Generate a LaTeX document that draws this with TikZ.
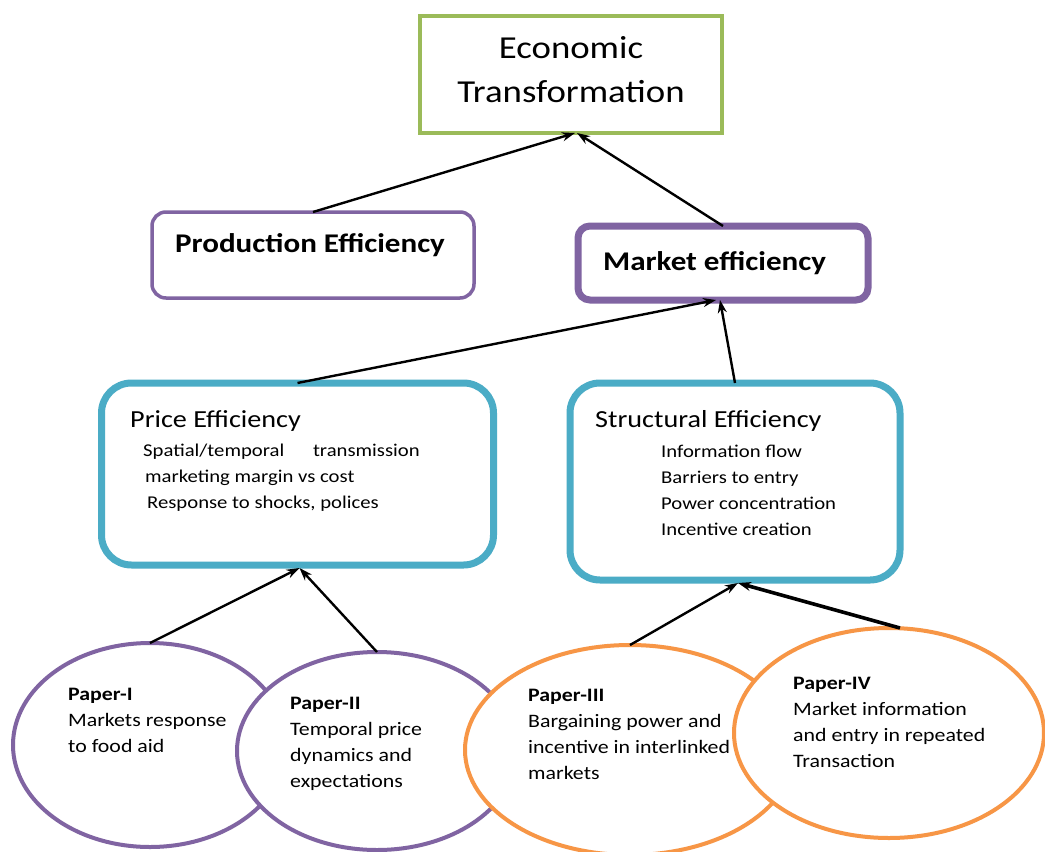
\documentclass[tikz,border=0pt]{standalone}
\usepackage{fontspec}
\setmainfont{Carlito}[FakeStretch=1.15]
\usetikzlibrary{shapes.geometric,arrows.meta}
\definecolor{cgreen}{HTML}{9BBB59}
\definecolor{cpurple}{HTML}{8064A2}
\definecolor{ccyan}{HTML}{4BACC6}
\definecolor{corange}{HTML}{F79646}
\begin{document}
\begin{tikzpicture}[x=1pt,y=-1pt,
  box/.style={draw, fill=white, inner sep=0pt, outer sep=0pt},
  paper/.style={ellipse, draw, fill=white, line width=4pt, inner sep=0pt, outer sep=0pt},
  txt/.style={inner sep=0pt, anchor=north west, align=left},
  head/.style={txt, font=\fontsize{24.5}{28}\selectfont},
  body/.style={txt, font=\fontsize{18}{26}\selectfont},
  ptxt/.style={txt, font=\fontsize{19}{26}\selectfont},
  arr/.style={-{Stealth[length=13pt,width=9pt]}, line width=2.4pt, black}
]
\useasboundingbox[fill=white] (0,0) rectangle (1045,852);

% top
\node[box, draw=cgreen, line width=4pt, minimum width=302pt, minimum height=117pt] (econ) at (571,74.5) {};
\node[inner sep=0pt, align=center, font=\fontsize{32}{44}\selectfont] at (571,70) {Economic\\Transformation};

% middle level
\node[box, draw=cpurple, line width=3.5pt, rounded corners=14pt, minimum width=322pt, minimum height=86pt] (prod) at (313,255) {};
\node[txt, anchor=west, font=\bfseries\fontsize{27}{32}\selectfont] at (175,245) {Production Efficiency};

\node[box, draw=cpurple, line width=7pt, rounded corners=12pt, minimum width=290pt, minimum height=74pt] (market) at (723,263) {};
\node[txt, anchor=west, font=\bfseries\fontsize{27}{32}\selectfont] at (603,263) {Market efficiency};

% efficiency boxes
\node[box, draw=ccyan, line width=7pt, rounded corners=30pt, minimum width=392pt, minimum height=182pt] (price) at (297.5,474) {};
\node[head, anchor=west] at (130,421) {Price Efficiency};
\node[body] at (143,444) {Spatial/temporal\hspace{1.6em}transmission\\\hspace{2pt}marketing margin vs cost\\\hspace{4pt}Response to shocks, polices};

\node[box, draw=ccyan, line width=7pt, rounded corners=30pt, minimum width=330pt, minimum height=197pt] (struct) at (735,481.5) {};
\node[head, anchor=west] at (595,421) {Structural Efficiency};
\node[body] at (661,445) {Information flow\\Barriers to entry\\Power concentration\\Incentive creation};

% papers
\node[paper, draw=cpurple, minimum width=274pt, minimum height=204pt] (p1) at (150,745) {};
\node[ptxt] at (68,688) {\textbf{Paper-I}\\Markets response\\to food aid};

\node[paper, draw=cpurple, minimum width=280pt, minimum height=198pt] (p2) at (377,751) {};
\node[ptxt] at (290,697) {\textbf{Paper-II}\\Temporal price\\dynamics and\\expectations};

\node[paper, draw=corange, minimum width=330pt, minimum height=210pt] (p3) at (630,750) {};
\node[ptxt] at (528,689) {\textbf{Paper-III}\\Bargaining power and\\incentive in interlinked\\markets};

\node[paper, draw=corange, minimum width=310pt, minimum height=210pt] (p4) at (889,733) {};
\node[ptxt] at (793,677) {\textbf{Paper-IV}\\Market information\\and entry in repeated\\Transaction};

% connectors
\draw[arr] (prod.north) -- ([xshift=4pt]econ.south);
\draw[arr] (market.north) -- ([xshift=6pt]econ.south);
\draw[arr] (price.north) -- ([xshift=-7pt]market.south);
\draw[arr] (struct.north) -- ([xshift=-3pt]market.south);
\draw[arr] (p1.north) -- ([xshift=2pt,yshift=-3pt]price.south);
\draw[arr] (p2.north) -- ([xshift=2pt,yshift=-3pt]price.south);
\draw[arr] (p3.north) -- ([xshift=3pt,yshift=-3pt]struct.south);
\draw[arr, line width=3.6pt] ([xshift=11pt]p4.north) -- ([xshift=3pt,yshift=-3pt]struct.south);
\end{tikzpicture}
\end{document}
